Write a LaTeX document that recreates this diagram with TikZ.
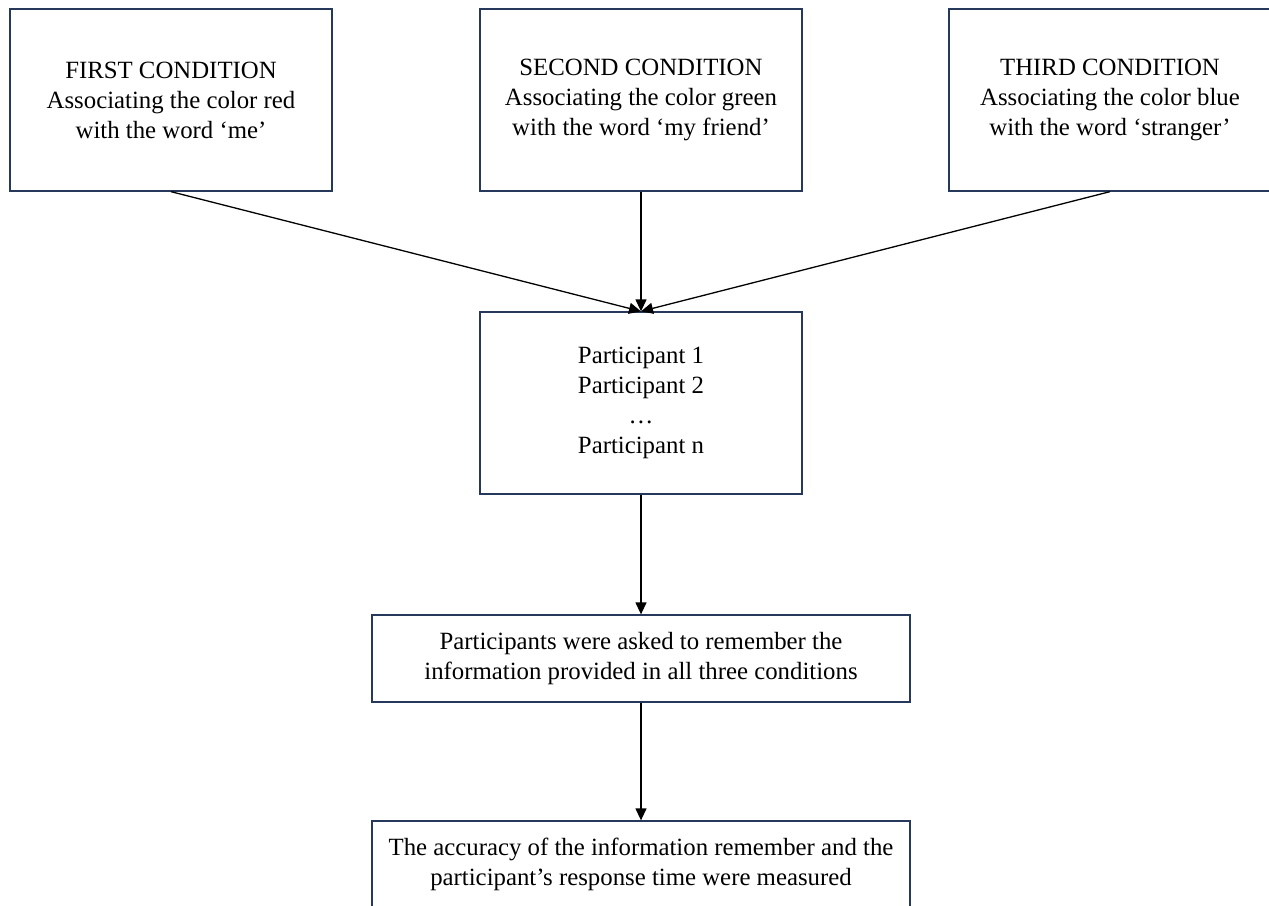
\documentclass[tikz,border=0pt]{standalone}
\usepackage{fontspec}
\setmainfont{Liberation Serif}
\usepackage{tikz}
\usetikzlibrary{arrows.meta,positioning}
\definecolor{boxline}{RGB}{38,56,92}

\begin{document}
\begin{tikzpicture}[x=1pt,y=-1pt,font=\fontsize{24.8}{30}\selectfont]

\tikzset{condbox/.style={draw=boxline,line width=1.3pt,minimum width=322pt,minimum height=182pt,align=center,inner sep=0pt},
widebox/.style={draw=boxline,line width=1.3pt,minimum width=538pt,minimum height=87pt,align=center,inner sep=0pt},
flow/.style={line width=1.3pt,-{Triangle[length=12pt,width=11pt]}}}

% Frame
\clip (0,0) rectangle (1269,905);

% Conditions
\node[condbox] (first) at (171,100) {FIRST CONDITION\\Associating the color red\\with the word ‘me’};
\node[condbox] (second) at (641,100) {SECOND CONDITION\\Associating the color green\\with the word ‘my friend’};
\node[condbox] (third) at (1110,100) {THIRD CONDITION\\Associating the color blue\\with the word ‘stranger’};

% Participants
\node[condbox] (part) at (641,403) {Participant 1\\Participant 2\\\dots\\Participant n};

% Recall and measure
\node[widebox] (recall) at (641,658.5) {Participants were asked to remember the\\information provided in all three conditions};
\node[widebox] (measure) at (641,864.5) {The accuracy of the information remember and the\\participant’s response time were measured};

% Arrows
\draw[flow] (first.south) -- (part.north);
\draw[flow] (second.south) -- (part.north);
\draw[flow] (third.south) -- (part.north);
\draw[flow] (part) -- (recall);
\draw[flow] (recall) -- (measure);

\end{tikzpicture}
\end{document}
